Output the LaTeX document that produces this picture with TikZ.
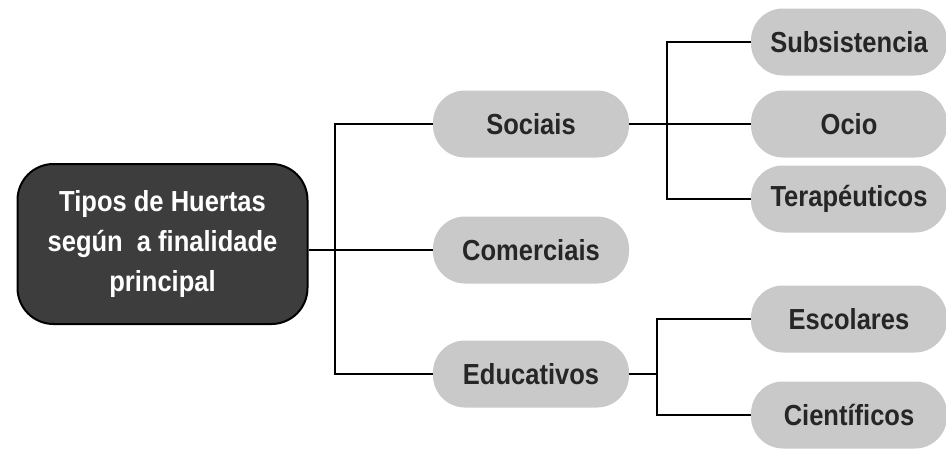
\documentclass[tikz,border=0pt]{standalone}
\usepackage{fontspec}
\setmainfont{Liberation Sans}[BoldFeatures={FakeStretch=0.88}]
\begin{document}
\begin{tikzpicture}[x=1pt,y=-1pt,
  txt/.style={font=\fontsize{29}{40}\selectfont\bfseries, inner sep=0pt},
  rootbox/.style={txt, draw=black, line width=2pt, fill=black!76, text=white,
    rounded corners=36pt, minimum width=290pt, minimum height=160pt, align=center},
  pill/.style={txt, fill=black!21, text=black!85, rounded corners=32pt,
    minimum width=196pt, minimum height=67pt},
  conn/.style={line width=2pt, black}]
\useasboundingbox (0,0) rectangle (946,450);
\node[rootbox] (root) at (162.5,244) {Tipos de Huertas\\según~ a finalidade\\principal};
\node[pill] (soc) at (531,124) {Sociais};
\node[pill] (com) at (531,250) {Comerciais};
\node[pill] (edu) at (531,374) {Educativos};
\node[pill] (sub) at (849,42) {Subsistencia};
\node[pill] (ocio) at (849,124) {Ocio};
\node[pill] (tera) at (849,199) {Terapéuticos};
\node[pill] (esc) at (849,319) {Escolares};
\node[pill] (cie) at (849,415) {Científicos};
\coordinate (ja) at (335,250);
\coordinate (jb) at (667,124);
\coordinate (jc) at (657,374);
\draw[conn] (root.east |- com.west) -- (com.west);
\draw[conn] (soc.west) -| (ja) |- (edu.west);
\draw[conn] (soc.east) -- (ocio.west);
\draw[conn] (sub.west) -| (jb) |- (tera.west);
\draw[conn] (edu.east) -- (jc);
\draw[conn] (esc.west) -| (jc) |- (cie.west);
\end{tikzpicture}
\end{document}
